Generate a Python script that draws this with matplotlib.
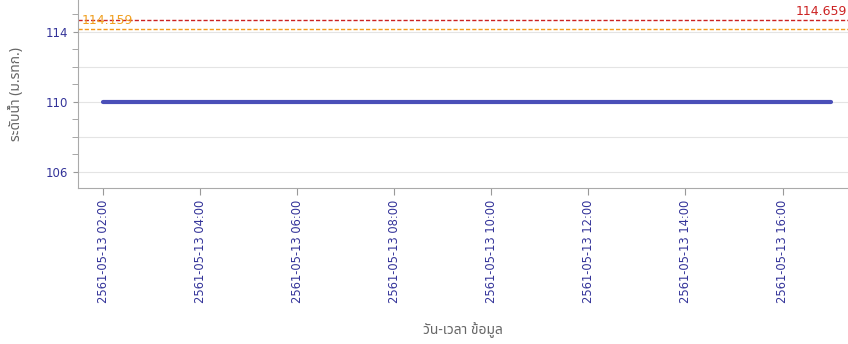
import matplotlib
matplotlib.use("Agg")
import matplotlib.pyplot as plt
from matplotlib.ticker import FixedLocator, MultipleLocator

# hourly water level, 2561-05-13 02:00 .. 17:00
hours = list(range(2, 18))
level = [110.0] * len(hours)

tick_hours = [2, 4, 6, 8, 10, 12, 14, 16]
tick_labels = ["2561-05-13 %02d:00" % h for h in tick_hours]

bank_level = 114.659
warn_level = 114.159

navy = "#333399"
thai = ["Noto Sans Thai", "Loma", "Garuda", "Tlwg Typo", "DejaVu Sans"]

fig = plt.figure(figsize=(8.48, 3.44), dpi=100)
ax = fig.add_axes([0.092, 0.4535, 0.908, 0.5465])

ax.plot(hours, level, color="#4a4fb8", linewidth=3, solid_capstyle="round")
ax.axhline(bank_level, color="#cc2222", linestyle=(0, (3, 1.5)), linewidth=1)
ax.axhline(warn_level, color="#f29a1a", linestyle=(0, (3, 1.5)), linewidth=1)

ax.text(1.55, warn_level + 0.3, "%.3f" % warn_level, color="#f0a020", fontsize=9)
ax.text(17.33, bank_level + 0.3, "%.3f" % bank_level, color="#cc2222", fontsize=9,
        ha="right")

ax.set_xlim(1.48, 17.35)
ax.set_ylim(105.09, 115.8)

ax.yaxis.set_major_locator(FixedLocator([106, 110, 114]))
ax.yaxis.set_minor_locator(MultipleLocator(1))
for y in [106, 108, 110, 112, 114, 116]:
    ax.axhline(y, color="#e4e4e4", linewidth=0.8, zorder=0)

ax.set_xticks(tick_hours)
ax.set_xticklabels(tick_labels, rotation=90, fontsize=8.3, color=navy)
ax.tick_params(axis="y", labelsize=8.5, labelcolor=navy, colors="#999999")
ax.tick_params(axis="y", which="minor", length=4, color="#999999")
ax.tick_params(axis="x", colors="#999999", labelcolor=navy, length=5)

for side in ["top", "right"]:
    ax.spines[side].set_visible(False)
ax.spines["left"].set_color("#aaaaaa")
ax.spines["bottom"].set_color("#aaaaaa")

ax.set_ylabel("ระดับน้ำ (ม.รทก.)", color="#666666", fontsize=10, family=thai, labelpad=16)
ax.set_xlabel("วัน-เวลา ข้อมูล", color="#666666", fontsize=10, family=thai, labelpad=14)

plt.savefig("out.png", dpi=100)
plt.close()
